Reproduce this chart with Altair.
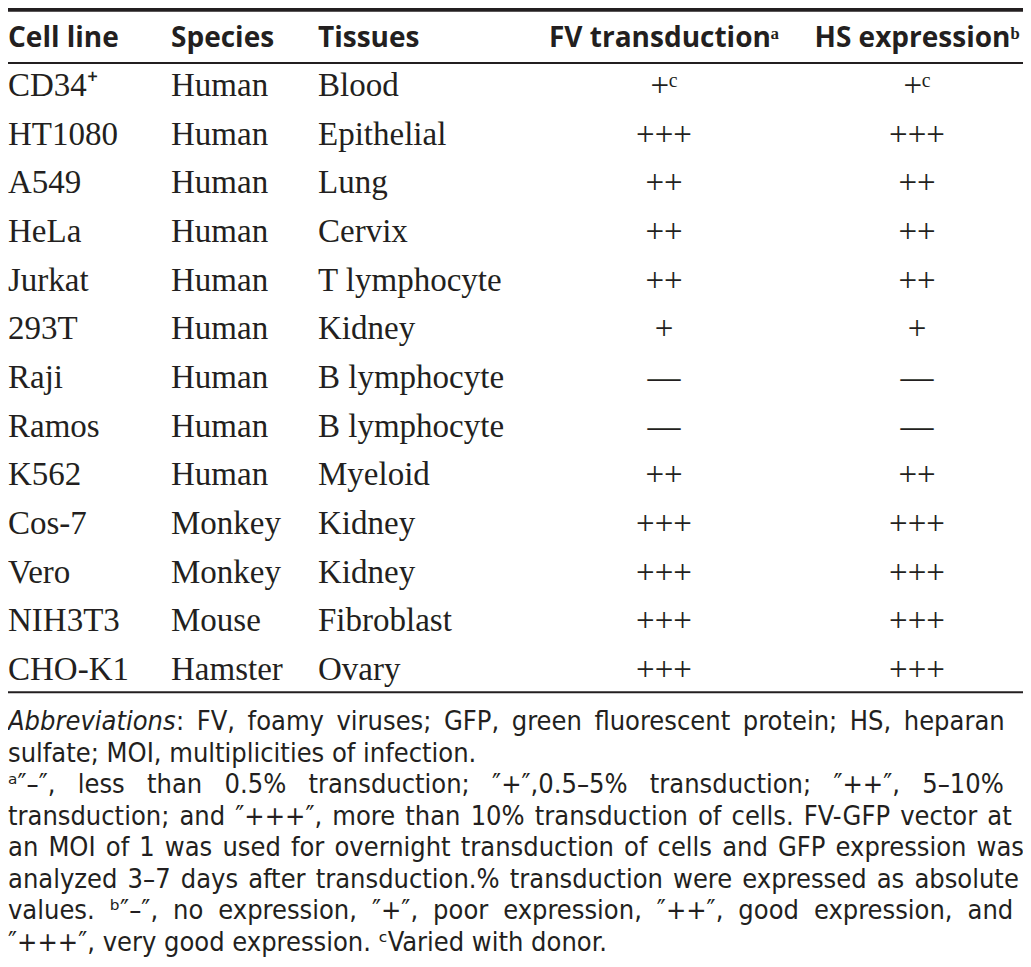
import altair as alt
import pandas as pd

# ---------------- data ----------------
headers = ["Cell line", "Species", "Tissues", "FV transductionᵃ", "HS expressionᵇ"]

cell_lines = ["CD34⁺", "HT1080", "A549", "HeLa", "Jurkat", "293T", "Raji",
              "Ramos", "K562", "Cos-7", "Vero", "NIH3T3", "CHO-K1"]
species = ["Human", "Human", "Human", "Human", "Human", "Human", "Human",
           "Human", "Human", "Monkey", "Monkey", "Mouse", "Hamster"]
tissues = ["Blood", "Epithelial", "Lung", "Cervix", "T lymphocyte", "Kidney",
           "B lymphocyte", "B lymphocyte", "Myeloid", "Kidney", "Kidney",
           "Fibroblast", "Ovary"]
fv_transduction = ["+ᶜ", "+++", "++", "++", "++", "+", "—", "—", "++",
                   "+++", "+++", "+++", "+++"]
hs_expression = ["+ᶜ", "+++", "++", "++", "++", "+", "—", "—", "++",
                 "+++", "+++", "+++", "+++"]

footnote_italic = "Abbreviations"
footnotes = [
    ": FV, foamy viruses; GFP, green fluorescent protein; HS, heparan",
    "sulfate; MOI, multiplicities of infection.",
    "ᵃ″–″, less than 0.5% transduction; ″+″,0.5–5% transduction; ″++″, 5–10%",
    "transduction; and ″+++″, more than 10% transduction of cells. FV-GFP vector at",
    "an MOI of 1 was used for overnight transduction of cells and GFP expression was",
    "analyzed 3–7 days after transduction.% transduction were expressed as absolute",
    "values. ᵇ″–″, no expression, ″+″, poor expression, ″++″, good expression, and",
    "″+++″, very good expression. ᶜVaried with donor.",
]

# table rules, positioned in row units (row 0 = first data row)
rule_rows = [-1.77, -0.68, 12.25]
rule_widths = [4, 2, 2]

# ---------------- layout (styling) ----------------
W, H = 1015, 959
col_x = [0, 163, 310, 656, 909]
col_align = ["left", "left", "left", "center", "center"]
ink = "#231f20"
serif = "Liberation Serif"
sans_b = "Open Sans"
narrow = "DejaVu Sans Condensed, sans-serif"
note_size = 27
italic_dx = 168
# word gaps used to imitate the justified footnote block
gap_fill = [" \u2009", " ", " \u2002\u200a", " \u200a", " \u200a", " \u200a", " \u2009\u200a", " "]

columns = [cell_lines, species, tissues, fv_transduction, hs_expression]
yscale = alt.Scale(domain=[0, 12], range=[88, 672], zero=False, nice=False)

def Y():
    return alt.Y("row:Q", scale=yscale, axis=None)

layers = []
rules = pd.DataFrame({"row": rule_rows, "w": rule_widths})
layers.append(alt.Chart(rules).mark_rule(color=ink).encode(
    y=Y(), strokeWidth=alt.StrokeWidth("w:Q", scale=None, legend=None)))

for c in range(5):
    df = pd.DataFrame({"row": list(range(len(columns[c]))), "text": columns[c]})
    layers.append(alt.Chart(df).mark_text(
        align=col_align[c], baseline="alphabetic", font=serif, fontSize=33, color=ink
    ).encode(x=alt.value(col_x[c]), y=Y(), text="text:N"))
    hd = pd.DataFrame({"row": [-1], "text": [headers[c]]})
    layers.append(alt.Chart(hd).mark_text(
        align=col_align[c], baseline="alphabetic", font=sans_b, fontWeight="bold",
        fontSize=28, color=ink
    ).encode(x=alt.value(col_x[c]), y=Y(), text="text:N"))

table = alt.layer(*layers)

shown = [t.replace(" ", g) if i > 0 else ":" + t[1:].replace(" ", g)
         for i, (t, g) in enumerate(zip(footnotes, gap_fill))]
notes = pd.DataFrame({"line": list(range(len(footnotes))), "text": shown})
notes_it = pd.DataFrame({"line": [0], "text": [footnote_italic]})
nscale = alt.Scale(domain=[0, 7], range=[722, 943], zero=False, nice=False)

def NY():
    return alt.Y("line:Q", scale=nscale, axis=None)

notes_layer = alt.Chart(notes).transform_filter("datum.line > 0").mark_text(
    align="left", baseline="alphabetic", font=narrow, fontSize=note_size, color=ink
).encode(x=alt.value(0), y=NY(), text="text:N")
notes_first = alt.Chart(notes).transform_filter("datum.line == 0").mark_text(
    align="left", baseline="alphabetic", font=narrow, fontSize=note_size, color=ink, dx=italic_dx
).encode(x=alt.value(0), y=NY(), text="text:N")
notes_italic = alt.Chart(notes_it).mark_text(
    align="left", baseline="alphabetic", font=narrow, fontSize=note_size,
    fontStyle="italic", color=ink
).encode(x=alt.value(0), y=NY(), text="text:N")

notes_all = alt.layer(notes_layer, notes_first, notes_italic)

chart = alt.layer(table, notes_all).resolve_scale(y="independent").properties(
    width=W, height=H,
    autosize=alt.AutoSizeParams(type="none"),
    padding=0,
    background="white",
).configure_view(stroke=None)

chart.save("out.html", embed_options={"renderer": "svg", "actions": False})
